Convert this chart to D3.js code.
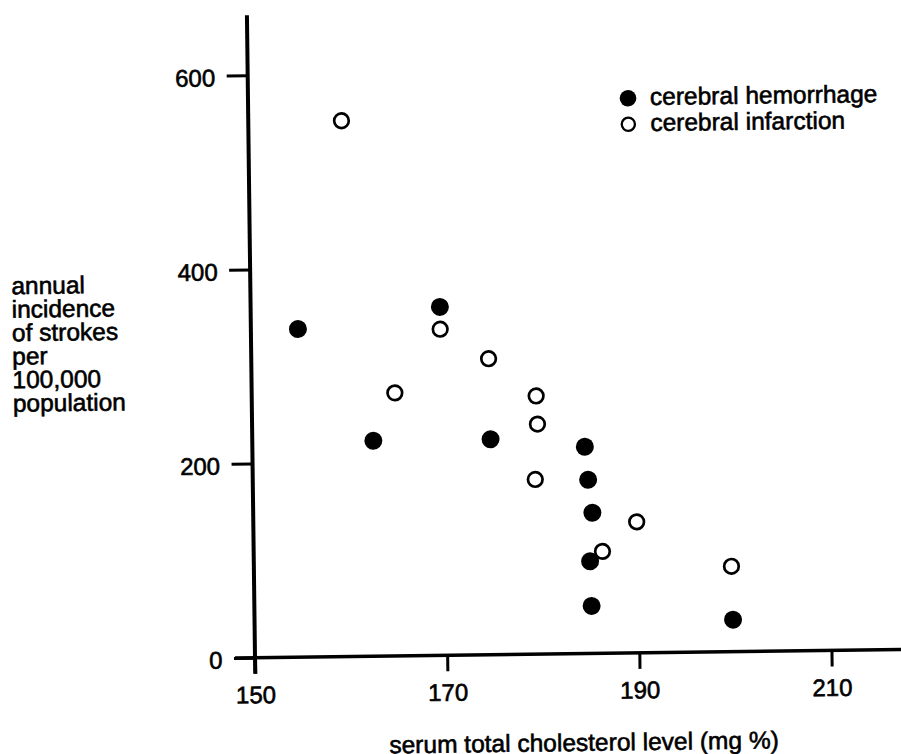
<!DOCTYPE html>
<html lang="en">
<head>
    <meta charset="UTF-8">
    <title>Strokes and Cholesterol</title>
    <script src="https://cdn.jsdelivr.net/npm/d3@7"></script>
    <style>
        body { margin: 0; background: #fff; }
        text { font-family: "Liberation Sans", Arial, Helvetica, sans-serif; fill: #000; stroke: #000; stroke-width: 0.6px; }
        .axis text { font-size: 24px; }
        .axis line { stroke: #000; stroke-width: 3px; }
        .axis .domain { display: none; }
    </style>
</head>
<body>
<script type="text/javascript">
// values
var hemorrhageX = [154.9, 169.7, 162.6, 174.8, 184.6, 184.9, 185.3, 185.0, 185.1, 199.8];
var hemorrhageY = [338, 359, 222, 222, 213, 179, 145, 95, 49, 33];
var infarctionX = [159.7, 169.7, 174.7, 164.9, 179.6, 179.7, 179.4, 189.9, 186.3, 199.7];
var infarctionY = [552, 336, 305, 271, 266, 237, 180, 135, 105, 88];
var xTicks = [150, 170, 190, 210];
var yTicks = [0, 200, 400, 600];
var legendLabels = ["cerebral hemorrhage", "cerebral infarction"];
var yTitle = ["annual", "incidence", "of strokes", "per", "100,000", "population"];
var xTitle = "serum total cholesterol level (mg %)";

var width = 901, height = 754;
var ox = 255, oy = 657.7;   // where the axes cross

var svg = d3.select("body").append("svg")
    .attr("width", width)
    .attr("height", height);

// the scan is turned a little, so turn everything with it
var g = svg.append("g")
    .attr("transform", "rotate(-0.72," + ox + "," + oy + ")");

var xScale = d3.scaleLinear().domain([150, 210]).range([ox, ox + 576.5]);
var yScale = d3.scaleLinear().domain([0, 600]).range([oy, oy - 582.4]);

// axis lines
g.append("line")
    .attr("x1", xScale(150)).attr("x2", xScale(150))
    .attr("y1", yScale(0) + 16).attr("y2", yScale(662))
    .style("stroke", "#000").style("stroke-width", 4);
g.append("line")
    .attr("x1", xScale(150) - 20).attr("x2", xScale(218))
    .attr("y1", yScale(0)).attr("y2", yScale(0))
    .style("stroke", "#000").style("stroke-width", 3.5);

var xAxis = d3.axisBottom(xScale).tickValues(xTicks).tickSize(16).tickPadding(12.5);
var yAxis = d3.axisLeft(yScale).tickValues(yTicks).tickSize(21).tickPadding(11.5);

g.append("g").attr("class", "axis x-axis")
    .attr("transform", "translate(0," + oy + ")")
    .call(xAxis);

g.append("g").attr("class", "axis y-axis")
    .attr("transform", "translate(" + ox + ",0)")
    .call(yAxis)
    .selectAll("text").attr("dy", "0.42em");

g.selectAll(".axis").attr("font-family", null).attr("font-size", null);
g.selectAll(".axis text").attr("fill", null);

// points
var hemorrhage = hemorrhageX.map(function(d, i) { return { x: d, y: hemorrhageY[i] }; });
var infarction = infarctionX.map(function(d, i) { return { x: d, y: infarctionY[i] }; });

g.selectAll("circle.open").data(infarction)
    .enter()
    .append("circle")
    .attr("class", "open")
    .attr("r", 7.3)
    .attr("cx", function(d) { return xScale(d.x); })
    .attr("cy", function(d) { return yScale(d.y); })
    .style("fill", "none")
    .style("stroke", "#000")
    .style("stroke-width", 2.7);

g.selectAll("circle.filled").data(hemorrhage)
    .enter()
    .append("circle")
    .attr("class", "filled")
    .attr("r", 9)
    .attr("cx", function(d) { return xScale(d.x); })
    .attr("cy", function(d) { return yScale(d.y); })
    .style("fill", "#000");

// legend
var legend = g.append("g").attr("transform", "translate(635,103)");
legend.append("circle").attr("r", 8.3).style("fill", "#000");
legend.append("circle").attr("cy", 26).attr("r", 6.6)
    .style("fill", "none").style("stroke", "#000").style("stroke-width", 2.3);
legend.selectAll("text").data(legendLabels)
    .enter()
    .append("text")
    .attr("x", 22)
    .attr("y", function(d, i) { return 7 + i * 26; })
    .style("font-size", "24.5px")
    .text(function(d) { return d; });

// axis titles
g.append("text")
    .attr("x", 16)
    .style("font-size", "24.5px")
    .selectAll("tspan").data(yTitle)
    .enter()
    .append("tspan")
    .attr("x", 16)
    .attr("y", function(d, i) { return 291.2 + i * 23.5; })
    .text(function(d) { return d; });

g.append("text")
    .attr("x", 583)
    .attr("y", 755)
    .attr("text-anchor", "middle")
    .style("font-size", "24.5px")
    .text(xTitle);
</script>
</body>
</html>
